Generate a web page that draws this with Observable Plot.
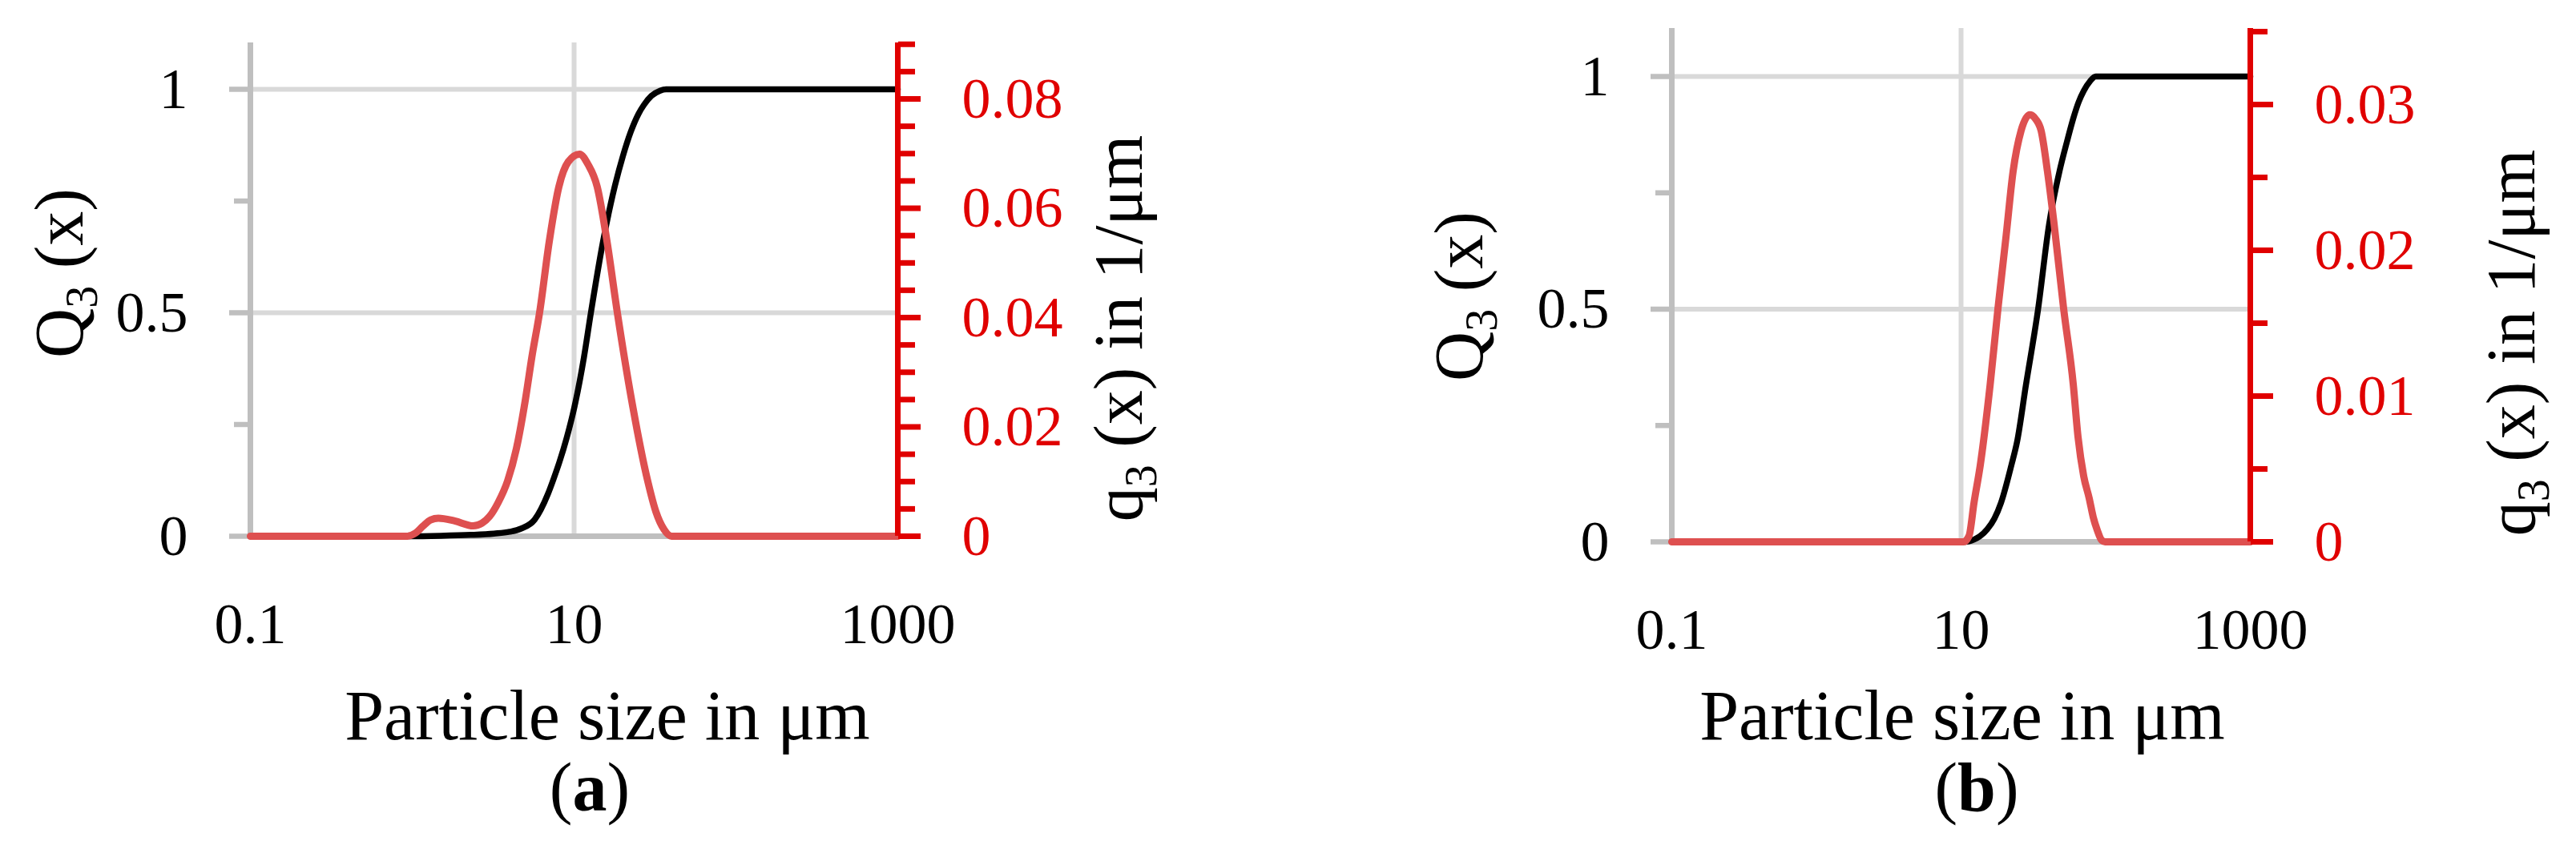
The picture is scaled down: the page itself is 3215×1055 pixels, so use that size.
<!DOCTYPE html>
<html>
<head>
<meta charset="utf-8">
<script src="https://cdn.jsdelivr.net/npm/d3@7"></script>
<script src="https://cdn.jsdelivr.net/npm/@observablehq/plot@0.6"></script>
<style>
html, body { margin: 0; padding: 0; background: #fff; }
#page { position: relative; width: 3215px; height: 1055px; overflow: hidden; background: #fff; }
.panel { position: absolute; top: 0; height: 1055px; }
.panel svg { position: absolute; left: 0; top: 0; }
#ann { position: absolute; left: 0; top: 0; pointer-events: none; }
</style>
</head>
<body>
<div id="page"></div>
<script>
// ---------- data ----------
const xTicks = [0.1, 10, 1000];
const xGrid = [10];
const QMajor = [0, 0.5, 1];
const QMinor = [0.25, 0.75];
const QGrid = [0.5, 1];

// panel (a)
const sizeA_cum = [0.1, 0.9, 1.5, 2.3, 3.2, 4.0, 4.7, 5.7, 6.9, 7.5, 8.1, 9.0, 10.2, 11.5, 12.7, 15.1, 17.9, 20.0, 22.4, 25.0, 27.0, 30.0, 34.0, 37.0, 1000];
const Q3_A      = [0, 0, 0.001, 0.003, 0.006, 0.01, 0.017, 0.037, 0.095, 0.13, 0.165, 0.22, 0.30, 0.40, 0.50, 0.66, 0.785, 0.85, 0.905, 0.945, 0.965, 0.985, 0.997, 1, 1];
const sizeA_den = [0.1, 0.92, 1.05, 1.16, 1.3, 1.45, 1.83, 2.38, 2.7, 3.0, 3.4, 3.88, 4.4, 4.99, 5.5, 6.12, 7.03, 8.05, 9.2, 10.8, 12.2, 13.9, 15.96, 18.5, 22.7, 28.5, 32, 36, 40, 1000];
const q3_A      = [0, 0, 0.0006, 0.0018, 0.003, 0.0033, 0.0028, 0.0019, 0.0024, 0.0036, 0.0062, 0.0101, 0.016, 0.0248, 0.033, 0.0409, 0.054, 0.0639, 0.0685, 0.0699, 0.068, 0.0639, 0.054, 0.0409, 0.0248, 0.0101, 0.0045, 0.0012, 0, 0];
const qMajorA = [0, 0.02, 0.04, 0.06, 0.08];
const qMinorA = [0.005, 0.01, 0.015, 0.025, 0.03, 0.035, 0.045, 0.05, 0.055, 0.065, 0.07, 0.075, 0.085, 0.09];

// panel (b)
const sizeB_cum = [0.1, 10.6, 12.3, 13.5, 15.2, 17.0, 18.9, 22.3, 24.4, 28.1, 34.1, 40.6, 48, 54, 59.7, 65, 70.5, 78, 85.3, 1000];
const Q3_B      = [0, 0, 0.005, 0.012, 0.0275, 0.05, 0.084, 0.165, 0.215, 0.337, 0.5, 0.682, 0.797, 0.86, 0.91, 0.945, 0.969, 0.99, 1, 1];
const sizeB_den = [0.1, 10.4, 11.35, 12.3, 13.6, 15.9, 18.0, 20.5, 22.9, 26.0, 29.9, 32.8, 35.8, 39.6, 44.0, 51.2, 59.7, 64.4, 70.5, 76.9, 82, 87.5, 94, 99, 1000];
const q3_B      = [0, 0, 0.0004, 0.0027, 0.0053, 0.0108, 0.016, 0.021, 0.0254, 0.0282, 0.0293, 0.029, 0.0282, 0.0254, 0.0218, 0.016, 0.0108, 0.0072, 0.0045, 0.003, 0.0017, 0.0008, 0.0001, 0, 0];
const qMajorB = [0, 0.01, 0.02, 0.03];
const qMinorB = [0.005, 0.015, 0.025, 0.035];

// texts
const xTitle = "Particle size in μm";
const panelTags = ["a", "b"];

// ---------- styling ----------
const H = 1055;
const GRID = "#d9d9d9", AXIS = "#bfbfbf", RED = "#e00000", LINE_RED = "#de5050";
const FONT = "'Liberation Serif', 'Times New Roman', serif";

function makePanel(cfg) {
  const div = document.createElement("div");
  div.className = "panel";
  div.style.left = cfg.left + "px";
  div.style.width = cfg.width + "px";
  const cum = cfg.sizeCum.map((x, i) => ({x, v: cfg.Q[i]}));
  const den = cfg.sizeDen.map((x, i) => ({x, v: cfg.q[i]}));
  const dims = {width: cfg.width, height: H, marginLeft: cfg.ml, marginRight: cfg.mr, marginTop: cfg.mt, marginBottom: cfg.mb};
  const style = {fontFamily: FONT, fontSize: "72px", background: "transparent", maxWidth: "none", overflow: "visible"};

  const base = Plot.plot({
    ...dims, style,
    x: {type: "log", domain: [0.1, 1000], label: null},
    y: {domain: [0, cfg.Qmax], label: null},
    marks: [
      Plot.ruleY(QGrid, {stroke: GRID, strokeWidth: 6}),
      Plot.ruleX(xGrid, {stroke: GRID, strokeWidth: 6}),
      Plot.ruleY([0], {stroke: AXIS, strokeWidth: 7}),
      Plot.ruleX([0.1], {stroke: AXIS, strokeWidth: 7}),
      Plot.axisY({ticks: QMajor, tickSize: 26, tickPadding: 52, stroke: AXIS, strokeWidth: 6.5, fill: "#000", tickFormat: d => String(d), label: null}),
      Plot.axisY({ticks: QMinor, tickSize: 20, stroke: AXIS, strokeWidth: 6.5, fill: "none", tickFormat: () => "", label: null}),
      Plot.axisX({ticks: xTicks, tickSize: 0, tickPadding: 82, fill: "#000", tickFormat: d => String(d), label: null}),
      Plot.line(cum, {x: "x", y: "v", stroke: "#000", strokeWidth: 7.5, curve: "monotone-x", strokeLinecap: "round"})
    ]
  });

  const over = Plot.plot({
    ...dims, style,
    x: {type: "log", domain: [0.1, 1000], axis: null},
    y: {domain: [0, cfg.qmax], label: null},
    marks: [
      Plot.line(den, {x: "x", y: "v", stroke: LINE_RED, strokeWidth: 9, curve: "monotone-x", strokeLinecap: "round"}),
      Plot.ruleX([1000], {stroke: RED, strokeWidth: 7}),
      Plot.axisY({anchor: "right", ticks: cfg.qMinor, tickSize: 21, stroke: RED, strokeWidth: 7, fill: "none", tickFormat: () => "", label: null}),
      Plot.axisY({anchor: "right", ticks: cfg.qMajor, tickSize: 28, tickPadding: 52, stroke: RED, strokeWidth: 7, fill: RED, tickFormat: d => String(d), label: null})
    ]
  });

  div.appendChild(base);
  div.appendChild(over);
  return div;
}

const page = document.getElementById("page");
page.appendChild(makePanel({
  left: 0, width: 1607, ml: 312, mr: 487, mt: 53, mb: 386,
  Qmax: 1.1039, qmax: 0.09026,
  sizeCum: sizeA_cum, Q: Q3_A, sizeDen: sizeA_den, q: q3_A,
  qMajor: qMajorA, qMinor: qMinorA
}));
page.appendChild(makePanel({
  left: 1607, width: 1608, ml: 479, mr: 407, mt: 35, mb: 379,
  Qmax: 1.1033, qmax: 0.03522,
  sizeCum: sizeB_cum, Q: Q3_B, sizeDen: sizeB_den, q: q3_B,
  qMajor: qMajorB, qMinor: qMinorB
}));

// ---------- titles and captions ----------
const ann = d3.select(page).append("svg")
  .attr("id", "ann").attr("width", 3215).attr("height", H)
  .style("font-family", FONT).attr("fill", "#000");

const layout = [
  {xt: [758, 923], tag: [736, 1012], lt: [103, 341], rt: [1425, 410]},
  {xt: [2449, 923], tag: [2467, 1012], lt: [1850, 370], rt: [3163, 428]}
];
layout.forEach((L, i) => {
  ann.append("text").attr("x", L.xt[0]).attr("y", L.xt[1])
    .attr("text-anchor", "middle").attr("font-size", 88).text(xTitle);
  const tg = ann.append("text").attr("x", L.tag[0]).attr("y", L.tag[1])
    .attr("text-anchor", "middle").attr("font-size", 86);
  tg.append("tspan").text("(");
  tg.append("tspan").attr("font-weight", "bold").text(panelTags[i]);
  tg.append("tspan").text(")");

  const lt = ann.append("text").attr("transform", `translate(${L.lt[0]},${L.lt[1]}) rotate(-90)`)
    .attr("text-anchor", "middle").attr("font-size", 86);
  lt.append("tspan").text("Q");
  lt.append("tspan").attr("font-size", 56).attr("dy", 18).text("3");
  lt.append("tspan").attr("dy", -18).text(" (x)");

  const rt = ann.append("text").attr("transform", `translate(${L.rt[0]},${L.rt[1]}) rotate(-90)`)
    .attr("text-anchor", "middle").attr("font-size", 86);
  rt.append("tspan").text("q");
  rt.append("tspan").attr("font-size", 56).attr("dy", 18).text("3");
  rt.append("tspan").attr("dy", -18).text(" (x) in 1/μm");
});
</script>
</body>
</html>
